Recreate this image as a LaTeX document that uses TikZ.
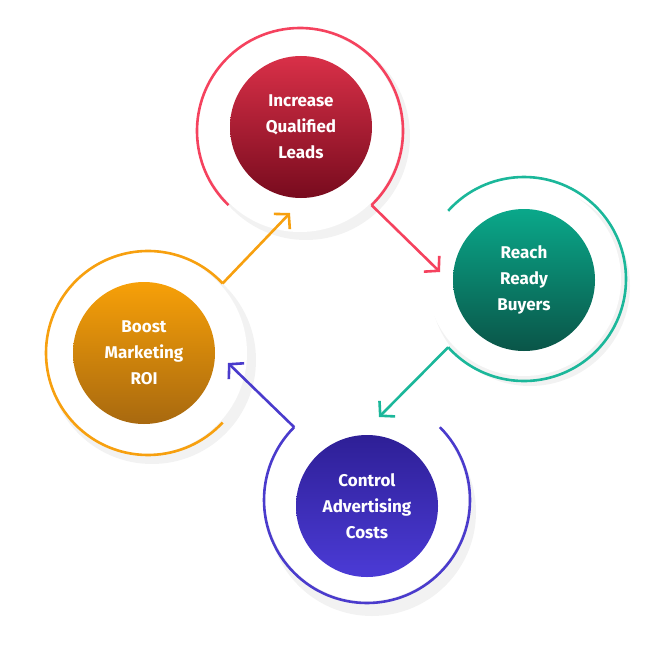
\documentclass[tikz,border=0pt]{standalone}
\usepackage{fontspec}
\setmainfont{Fira Sans}
\usetikzlibrary{arrows.meta,calc}
\definecolor{leadsRing}{HTML}{F5425E}
\definecolor{leadsTop}{HTML}{D93048}
\definecolor{leadsBot}{HTML}{780B1E}
\definecolor{buyRing}{HTML}{1BB79A}
\definecolor{buyTop}{HTML}{0AA88A}
\definecolor{buyBot}{HTML}{0A5548}
\definecolor{costRing}{HTML}{4A3BCC}
\definecolor{costTop}{HTML}{2E1F96}
\definecolor{costBot}{HTML}{4B3BD6}
\definecolor{roiRing}{HTML}{F7A00F}
\definecolor{roiTop}{HTML}{F7A008}
\definecolor{roiBot}{HTML}{A8690F}

\begin{document}
\begin{tikzpicture}[x=1pt,y=-1pt]
    % `goal' is the filled disc with its text.
    % `ring' is the open circle round a disc, `flow' the arrow out of it.
    \tikzstyle{goal} = [circle,minimum size=142pt,inner sep=0pt,text=white,
        align=center,font=\fontsize{17}{26}\selectfont\bfseries]
    \tikzstyle{ring} = [line width=2.6pt]
    \tikzstyle{flow} = [line width=2.6pt,-{Straight Barb[length=10pt,width=22pt,line width=2.6pt]}]
    \tikzstyle{shade} = [fill=black,opacity=0.05]
    %
    \useasboundingbox (0,0) rectangle (650,650);
    % Soft shadows.
    \fill[shade] (306,136) circle (104);
    \fill[shade] (530,286) circle (100);
    \fill[shade] (372,512) circle (104);
    \fill[shade] (152,360) circle (104);
    \fill[white] (300,131) circle (101) (524,279) circle (97)
                 (367,500) circle (101) (146,353) circle (101);
    % Discs.
    \node[goal,top color=leadsTop,bottom color=leadsBot] (leads) at (301,127) {Increase\\Qualified\\Leads};
    \node[goal,top color=buyTop,bottom color=buyBot] (buyers) at (524,280) {Reach\\Ready\\Buyers};
    \node[goal,top color=costTop,bottom color=costBot] (costs) at (367,506) {Control\\Advertising\\Costs};
    \node[goal,top color=roiTop,bottom color=roiBot] (roi) at (144,353) {Boost\\Marketing\\ROI};
    % Rings.
    \draw[ring,leadsRing] (300,131) ++(134:103) coordinate (leadsA) arc (134:406:103) coordinate (leadsB);
    \draw[ring,buyRing] (524,279) ++(222:102) coordinate (buyA) arc (222:498:102) coordinate (buyB);
    \draw[ring,costRing] (367,500) ++(-45:103) coordinate (costA) arc (-45:225:103) coordinate (costB);
    \draw[ring,roiRing] (148,353) ++(43:102) coordinate (roiA) arc (43:317:102) coordinate (roiB);
    % Arrow ends.
    \coordinate (buyIn) at (440,272);
    \coordinate (costIn) at (379,417);
    \coordinate (roiIn) at (228,363);
    \coordinate (leadsIn) at (290,213);
    % Arrows.
    \draw[flow,leadsRing] (leadsB) -- (buyIn);
    \draw[flow,buyRing] (buyB) -- (costIn);
    \draw[flow,costRing] (costB) -- (roiIn);
    \draw[flow,roiRing] (roiB) -- (leadsIn);
\end{tikzpicture}
\end{document}
